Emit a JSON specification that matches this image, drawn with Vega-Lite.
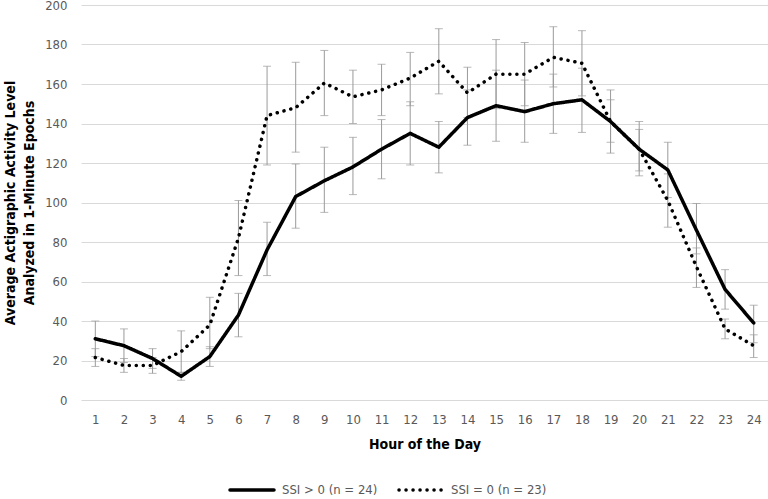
{
  "$schema": "https://vega.github.io/schema/vega-lite/v6.json",
  "width": 687,
  "height": 395,
  "autosize": "none",
  "padding": {"left": 81, "top": 5, "right": 0, "bottom": 99},
  "background": "white",
  "config": {
    "view": {"stroke": null},
    "font": "DejaVu Sans Condensed, sans-serif"
  },
  "data": {
    "values": [
      {"hour": 1, "group": "SSI > 0 (n = 24)", "mean": 31, "lo": 22, "hi": 40},
      {"hour": 2, "group": "SSI > 0 (n = 24)", "mean": 27.5, "lo": 19, "hi": 36},
      {"hour": 3, "group": "SSI > 0 (n = 24)", "mean": 21, "lo": 16, "hi": 26},
      {"hour": 4, "group": "SSI > 0 (n = 24)", "mean": 12, "lo": 10, "hi": 14},
      {"hour": 5, "group": "SSI > 0 (n = 24)", "mean": 22, "lo": 17, "hi": 27},
      {"hour": 6, "group": "SSI > 0 (n = 24)", "mean": 43, "lo": 32, "hi": 54},
      {"hour": 7, "group": "SSI > 0 (n = 24)", "mean": 76, "lo": 63, "hi": 90},
      {"hour": 8, "group": "SSI > 0 (n = 24)", "mean": 103, "lo": 87, "hi": 119.5},
      {"hour": 9, "group": "SSI > 0 (n = 24)", "mean": 111, "lo": 95, "hi": 128},
      {"hour": 10, "group": "SSI > 0 (n = 24)", "mean": 118, "lo": 104, "hi": 133},
      {"hour": 11, "group": "SSI > 0 (n = 24)", "mean": 127, "lo": 112, "hi": 142},
      {"hour": 12, "group": "SSI > 0 (n = 24)", "mean": 135, "lo": 119, "hi": 151},
      {"hour": 13, "group": "SSI > 0 (n = 24)", "mean": 128, "lo": 115, "hi": 141},
      {"hour": 14, "group": "SSI > 0 (n = 24)", "mean": 143, "lo": 129, "hi": 157},
      {"hour": 15, "group": "SSI > 0 (n = 24)", "mean": 149, "lo": 131, "hi": 167},
      {"hour": 16, "group": "SSI > 0 (n = 24)", "mean": 146, "lo": 130.5, "hi": 162},
      {"hour": 17, "group": "SSI > 0 (n = 24)", "mean": 150, "lo": 135, "hi": 165},
      {"hour": 18, "group": "SSI > 0 (n = 24)", "mean": 152, "lo": 135.5, "hi": 168},
      {"hour": 19, "group": "SSI > 0 (n = 24)", "mean": 141, "lo": 130.5, "hi": 152},
      {"hour": 20, "group": "SSI > 0 (n = 24)", "mean": 127, "lo": 116, "hi": 137},
      {"hour": 21, "group": "SSI > 0 (n = 24)", "mean": 116.5, "lo": 102.5, "hi": 130.5},
      {"hour": 22, "group": "SSI > 0 (n = 24)", "mean": 86, "lo": 74, "hi": 99.5},
      {"hour": 23, "group": "SSI > 0 (n = 24)", "mean": 56, "lo": 46, "hi": 66},
      {"hour": 24, "group": "SSI > 0 (n = 24)", "mean": 39, "lo": 29, "hi": 48},
      {"hour": 1, "group": "SSI = 0 (n = 23)", "mean": 21.5, "lo": 17, "hi": 26},
      {"hour": 2, "group": "SSI = 0 (n = 23)", "mean": 17.5, "lo": 14, "hi": 21},
      {"hour": 3, "group": "SSI = 0 (n = 23)", "mean": 17.5, "lo": 13.5, "hi": 21.5},
      {"hour": 4, "group": "SSI = 0 (n = 23)", "mean": 24.5, "lo": 14, "hi": 35},
      {"hour": 5, "group": "SSI = 0 (n = 23)", "mean": 38, "lo": 26, "hi": 52},
      {"hour": 6, "group": "SSI = 0 (n = 23)", "mean": 82, "lo": 63, "hi": 101},
      {"hour": 7, "group": "SSI = 0 (n = 23)", "mean": 144, "lo": 119, "hi": 169},
      {"hour": 8, "group": "SSI = 0 (n = 23)", "mean": 148, "lo": 125.5, "hi": 171},
      {"hour": 9, "group": "SSI = 0 (n = 23)", "mean": 160.5, "lo": 144, "hi": 177},
      {"hour": 10, "group": "SSI = 0 (n = 23)", "mean": 153.5, "lo": 140, "hi": 167},
      {"hour": 11, "group": "SSI = 0 (n = 23)", "mean": 157, "lo": 144, "hi": 170},
      {"hour": 12, "group": "SSI = 0 (n = 23)", "mean": 163, "lo": 149, "hi": 176},
      {"hour": 13, "group": "SSI = 0 (n = 23)", "mean": 171.5, "lo": 155, "hi": 188},
      {"hour": 14, "group": "SSI = 0 (n = 23)", "mean": 155.5, "lo": 143, "hi": 168.5},
      {"hour": 15, "group": "SSI = 0 (n = 23)", "mean": 165, "lo": 147.5, "hi": 182.5},
      {"hour": 16, "group": "SSI = 0 (n = 23)", "mean": 165, "lo": 149, "hi": 181},
      {"hour": 17, "group": "SSI = 0 (n = 23)", "mean": 173.5, "lo": 158.5, "hi": 189},
      {"hour": 18, "group": "SSI = 0 (n = 23)", "mean": 170.5, "lo": 154, "hi": 187},
      {"hour": 19, "group": "SSI = 0 (n = 23)", "mean": 141, "lo": 125, "hi": 157},
      {"hour": 20, "group": "SSI = 0 (n = 23)", "mean": 127, "lo": 113.5, "hi": 141},
      {"hour": 21, "group": "SSI = 0 (n = 23)", "mean": 101, "lo": 87.5, "hi": 114.5},
      {"hour": 22, "group": "SSI = 0 (n = 23)", "mean": 67.5, "lo": 57, "hi": 77},
      {"hour": 23, "group": "SSI = 0 (n = 23)", "mean": 36, "lo": 31, "hi": 41},
      {"hour": 24, "group": "SSI = 0 (n = 23)", "mean": 27.5, "lo": 21.5, "hi": 33}
    ]
  },
  "encoding": {
    "x": {
      "field": "hour",
      "type": "ordinal",
      "scale": {"type": "point", "padding": 0.5},
      "axis": {
        "title": "Hour of the Day",
        "labelAngle": 0,
        "domain": false,
        "ticks": false,
        "grid": false,
        "labelPadding": 13,
        "labelFontSize": 13,
        "labelColor": "#595959",
        "titleFontSize": 14,
        "titleFontWeight": "bold",
        "titleColor": "#000000",
        "titlePadding": 11
      }
    }
  },
  "layer": [
    {
      "mark": {"type": "rule", "color": "#9a9a9a", "strokeWidth": 1},
      "encoding": {
        "y": {
          "field": "lo",
          "type": "quantitative",
          "scale": {"domain": [0, 200], "nice": false},
          "title": ["Average Actigraphic Activity Level", "Analyzed in 1-Minute Epochs"],
          "axis": {
            "values": [0, 20, 40, 60, 80, 100, 120, 140, 160, 180, 200],
            "tickCount": 20,
            "labelOverlap": false,
            "labelBound": false,
            "labelFlush": false,
            "domain": false,
            "ticks": false,
            "grid": true,
            "gridColor": "#d9d9d9",
            "gridWidth": 1,
            "labelPadding": 14,
            "labelFontSize": 13,
            "labelColor": "#595959",
            "titleFontSize": 14,
            "titleFontWeight": "bold",
            "titleColor": "#000000",
            "titleLineHeight": 19,
            "titlePadding": 8
          }
        },
        "y2": {"field": "hi"},
        "detail": {"field": "group", "type": "nominal"}
      }
    },
    {
      "mark": {"type": "tick", "color": "#9a9a9a", "size": 8, "thickness": 1, "orient": "horizontal"},
      "encoding": {
        "y": {"field": "lo", "type": "quantitative"},
        "detail": {"field": "group", "type": "nominal"}
      }
    },
    {
      "mark": {"type": "tick", "color": "#9a9a9a", "size": 8, "thickness": 1, "orient": "horizontal"},
      "encoding": {
        "y": {"field": "hi", "type": "quantitative"},
        "detail": {"field": "group", "type": "nominal"}
      }
    },
    {
      "mark": {"type": "line", "strokeWidth": 3.5, "strokeCap": "round", "strokeJoin": "round", "color": "#000000"},
      "encoding": {
        "y": {"field": "mean", "type": "quantitative"},
        "strokeDash": {
          "field": "group",
          "type": "nominal",
          "scale": {
            "domain": ["SSI > 0 (n = 24)", "SSI = 0 (n = 23)"],
            "range": [[1, 0], [0.1, 6.9]]
          },
          "legend": {
            "title": null,
            "orient": "none",
            "direction": "horizontal",
            "legendX": 147,
            "legendY": 461,
            "symbolType": "stroke",
            "symbolSize": 1936,
            "symbolStrokeWidth": 3.5,
            "symbolStrokeColor": "#000000",
            "labelFontSize": 13,
            "labelColor": "#595959",
            "labelOffset": 6,
            "columnPadding": 14,
            "encode": {"symbols": {"update": {"strokeCap": {"value": "round"}}}}
          }
        }
      }
    }
  ]
}
